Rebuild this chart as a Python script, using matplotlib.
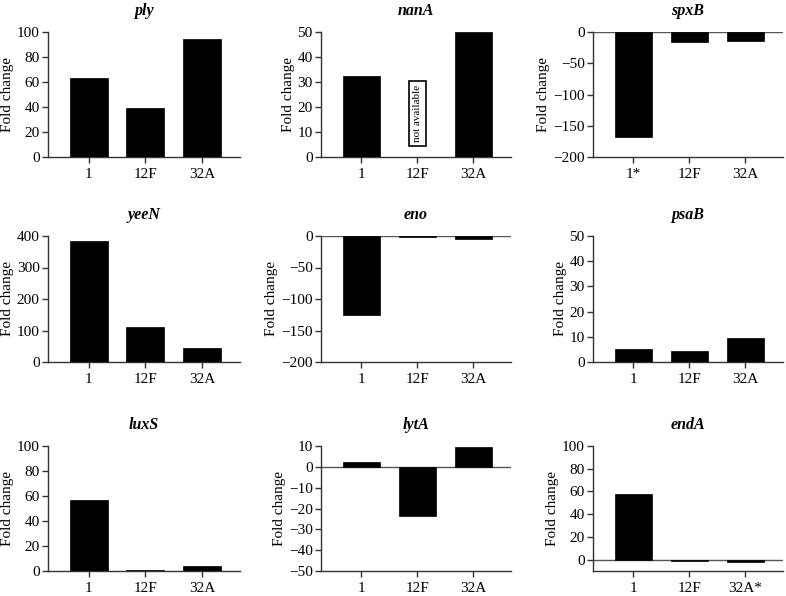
import matplotlib
matplotlib.use('Agg')
import matplotlib.pyplot as plt

plt.rcParams['font.family'] = ['Liberation Serif', 'DejaVu Serif']
plt.rcParams['axes.unicode_minus'] = True

strains = ['1', '12F', '32A']

genes = ['ply', 'nanA', 'spxB', 'yeeN', 'eno', 'psaB', 'luxS', 'lytA', 'endA']

ply = [63.2, 39.2, 94.4]
nanA = [32.3, None, 50.0]
spxB = [-168, -16, -14]
yeeN = [384, 111, 43.5]
eno = [-125, -1.0, -4.7]
psaB = [5.1, 4.5, 9.6]
luxS = [56.5, 0.8, 3.7]
lytA = [2.4, -23.5, 9.4]
endA = [57.4, -1.5, -1.8]

values = [ply, nanA, spxB, yeeN, eno, psaB, luxS, lytA, endA]

# y range and tick step of each panel
ylims = [(0, 100), (0, 50), (-200, 0), (0, 400), (-200, 0), (0, 50), (0, 100), (-50, 10), (-10, 100)]
ysteps = [20, 10, 50, 100, 50, 10, 20, 10, 20]
ystarts = [0, 0, -200, 0, -200, 0, 0, -50, 0]

xlabels = {'spxB': ['1*', '12F', '32A'], 'endA': ['1', '12F', '32A*']}

W, H = 786, 596
fig = plt.figure(figsize=(W / 100, H / 100), dpi=100)

lefts = [48, 321, 593]
widths = [192, 190, 190]
tops = [32, 236, 446]
heights = [125, 126, 125]

for idx, gene in enumerate(genes):
  r, c = idx // 3, idx % 3
  ax = fig.add_axes([lefts[c] / W, 1 - (tops[r] + heights[r]) / H, widths[c] / W, heights[r] / H])
  vals = values[idx]
  xs = [i for i, v in enumerate(vals) if v is not None]
  ys = [v for v in vals if v is not None]
  ax.bar(xs, ys, width=0.67, color='black', edgecolor='black', linewidth=0.5, zorder=3)
  lo, hi = ylims[idx]
  ax.set_ylim(lo, hi)
  ax.set_xlim(-0.72, 2.67)
  step = ysteps[idx]
  ax.set_yticks(list(range(ystarts[idx], hi + 1, step)))
  ax.set_xticks(range(3))
  ax.set_xticklabels(xlabels.get(gene, strains))
  for side in ['top', 'right']:
    ax.spines[side].set_visible(False)
  for side in ['left', 'bottom']:
    ax.spines[side].set_color('#333333')
    ax.spines[side].set_linewidth(1.0)
  if lo < 0:
    ax.axhline(0, color='#555555', linewidth=1.0, zorder=2)
  ax.tick_params(axis='both', direction='out', length=4, width=1.0, color='#333333',
                 labelsize=11, pad=2)
  ax.tick_params(axis='x', pad=4)
  ax.set_ylabel('Fold change', fontsize=11, labelpad=2)
  ax.set_title(gene, fontsize=11.5, fontweight='bold', fontstyle='italic', pad=12)
  if gene == 'nanA':
    ax.text(1, 17.3, 'not available', rotation=90, ha='center', va='center', fontsize=8,
            bbox=dict(boxstyle='square,pad=0.35', facecolor='white', edgecolor='black', linewidth=1.2))

fig.savefig('out.png', dpi=100)
